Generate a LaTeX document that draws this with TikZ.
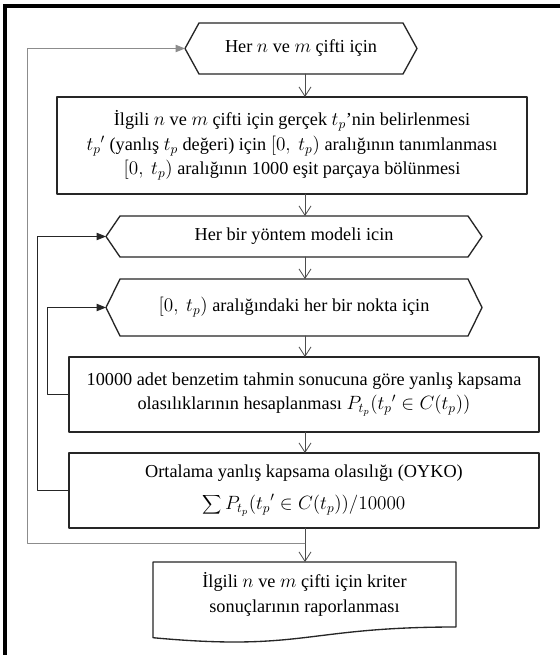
\documentclass[tikz,border=0pt]{standalone}
\usepackage{fontspec}
\setmainfont{Liberation Serif}
\usetikzlibrary{arrows.meta,calc}
\begin{document}
\begin{tikzpicture}[x=0.75pt, y=-0.75pt, line join=round, line cap=round,
	font=\fontsize{13.7}{18.5}\selectfont,
	shapeline/.style={line width=1pt, draw=black!85},
	box/.style={shapeline, inner sep=0pt, outer sep=0pt, align=center},
	hexa/.style={inner sep=0pt, outer sep=0pt, align=center},
	flow/.style={-{Straight Barb[length=7pt,width=9pt]}, line width=0.6pt, draw=black!70},
	back/.style={-{Triangle[length=7pt,width=5.5pt]}, line width=0.6pt, draw=black!85}]
	\useasboundingbox (0,0) rectangle (559,655);
	\fill[white] (0,0) rectangle (559,655);
	\draw[line width=2.3pt, line join=miter, line cap=butt] (5,670) -- (5,6) -- (570,6);
	% loop columns and main axis
	\coordinate (ax) at (305,0);
	\coordinate (l1) at (27,0);
	\coordinate (l2) at (37,0);
	\coordinate (l3) at (47,0);
	\coordinate (j) at (305,543);
	% steps
	\node[hexa, minimum width=174pt, minimum height=38.25pt] (h1) at (301,48.5) {Her $n$ ve $m$ çifti için};
	\node[box, minimum width=352.5pt, minimum height=72.75pt] (b2) at (292,145.5)
		{İlgili $n$ ve $m$ çifti için gerçek $t_p$’nin belirlenmesi\\
		$t_p{}'$ (yanlış $t_p$ değeri) için $\bigl[0,\ t_p\bigr)$ aralığının tanımlanması\\
		$\bigl[0,\ t_p\bigr)$ aralığının 1000 eşit parçaya bölünmesi};
	\node[hexa, minimum width=282pt, minimum height=30.75pt] (h3) at (294,236.5) {Her bir yöntem modeli icin};
	\node[hexa, minimum width=282pt, minimum height=42.75pt] (h4) at (294,307.5)
		{$\bigl[0,\ t_p\bigr)$ aralığındaki her bir nokta için};
	\node[box, minimum width=352.5pt, minimum height=56.25pt] (b5) at (304,394.5)
		{10000 adet benzetim tahmin sonucuna göre yanlış kapsama\\
		olasılıklarının hesaplanması $P_{t_p}\bigl(t_p{}'\in C(t_p)\bigr)$};
	\node[box, minimum width=352.5pt, minimum height=56.25pt] (b6) at (304,490.5)
		{Ortalama yanlış kapsama olasılığı (OYKO)\\[5pt]
		$\displaystyle\sum P_{t_p}\bigl(t_p{}'\in C(t_p)\bigr)\big/10000$};
	\node[hexa, minimum width=227.25pt, minimum height=48.75pt] (doc) at (304.5,594.5)
		{İlgili $n$ ve $m$ çifti için kriter\\ sonuçlarının raporlanması};
	% outlines
	\foreach \h in {h1,h3,h4}
		\draw[shapeline] (\h.west) -- ($(\h.north west)+(14,0)$) -- ($(\h.north east)+(-14,0)$)
		-- (\h.east) -- ($(\h.south east)+(-14,0)$) -- ($(\h.south west)+(14,0)$) -- cycle;
	\draw[shapeline] ($(doc.south west)+(0,10.7)$) -- (doc.north west) -- (doc.north east) -- (doc.south east)
		.. controls (doc.south) and ($(doc.south)+(0,24.7)$) .. ($(doc.south west)+(0,10.7)$);
	% arrows
	\draw[flow] (h1.south -| ax) -- (b2.north -| ax);
	\draw[flow] (b2.south -| ax) -- (h3.north -| ax);
	\draw[flow] (h3.south -| ax) -- (h4.north -| ax);
	\draw[flow] (h4.south -| ax) -- (b5.north -| ax);
	\draw[flow] (b5.south -| ax) -- (b6.north -| ax);
	\draw[flow] (b6.south -| ax) -- (doc.north -| ax);
	\draw[back] (b5.west) -- (b5.west -| l3) |- (h4.west);
	\draw[back] (b6.west) -- (b6.west -| l2) |- (h3.west);
	\draw[back, draw=black!45] (j) -- (j -| l1) |- (h1.west);
\end{tikzpicture}
\end{document}
